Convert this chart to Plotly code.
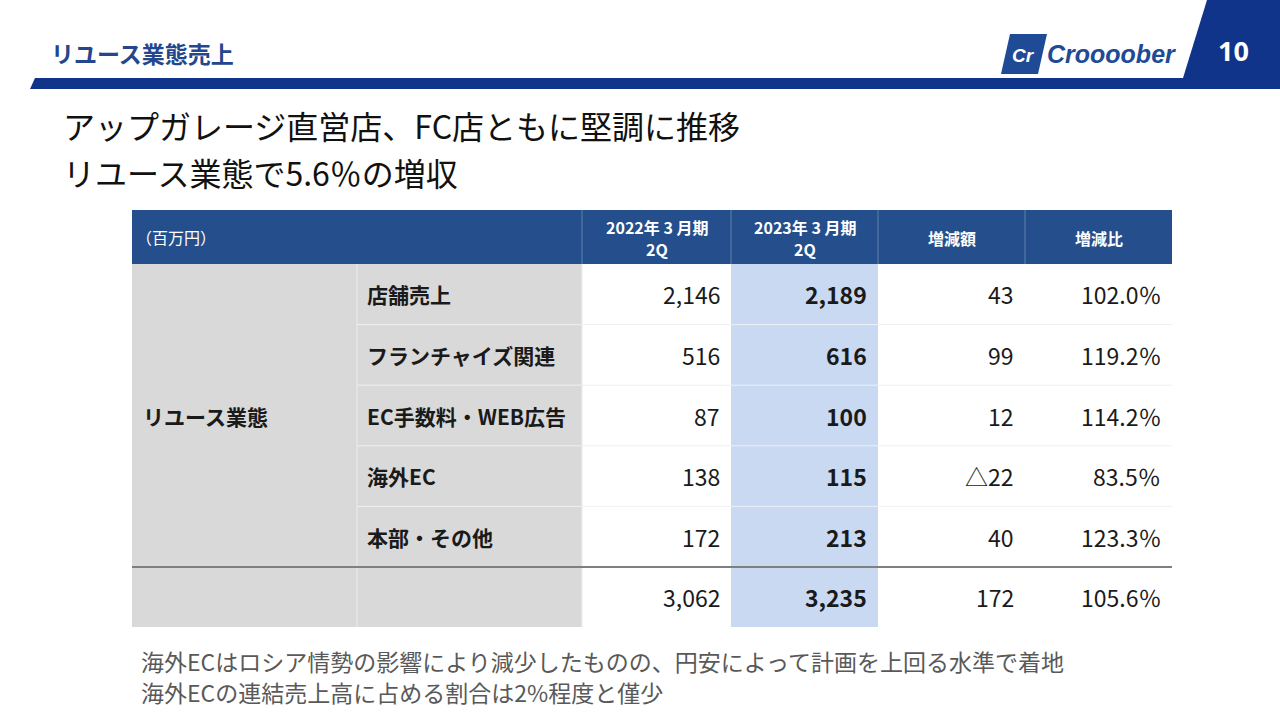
import plotly.graph_objects as go

# ---------------- data ----------------
page_title = "リユース業態売上"
headline = ["アップガレージ直営店、FC店ともに堅調に推移", "リユース業態で5.6％の増収"]
unit_label = "（百万円）"
col_headers = [["2022年 3 月期", "2Q"], ["2023年 3 月期", "2Q"], ["増減額"], ["増減比"]]
segment = "リユース業態"
categories = ["店舗売上", "フランチャイズ関連", "EC手数料・WEB広告", "海外EC", "本部・その他"]
fy2022_2q = [2146, 516, 87, 138, 172]
fy2023_2q = [2189, 616, 100, 115, 213]
change = [43, 99, 12, -22, 40]
change_ratio = [102.0, 119.2, 114.2, 83.5, 123.3]
total_2022 = 3062
total_2023 = 3235
total_change = 172
total_ratio = 105.6
notes = ["海外ECはロシア情勢の影響により減少したものの、円安によって計画を上回る水準で着地",
         "海外ECの連結売上高に占める割合は2%程度と僅少"]
page_no = "10"

# ---------------- style ----------------
JP = "Noto Sans CJK JP"
NAVY = "#0f348a"
HEAD_BLUE = "#244f8c"
GREY = "#d9d9d9"
LBLUE = "#c9d9f1"
TXT = "#1a1a1a"

col_edges = [132, 357, 582, 731, 878, 1025, 1172]
head_top, head_bot = 210, 264
row_h = (567 - 264) / 5
total_top, total_bot = 567, 627

shapes, ann = [], []


def rect(x0, y0, x1, y1, color):
    shapes.append(dict(type="rect", xref="x", yref="y", x0=x0, y0=y0, x1=x1, y1=y1,
                       fillcolor=color, line=dict(width=0), layer="below"))


def line(x0, y0, x1, y1, color, w=1):
    shapes.append(dict(type="line", xref="x", yref="y", x0=x0, y0=y0, x1=x1, y1=y1,
                       line=dict(color=color, width=w), layer="below"))


def path(pts, color):
    d = "M " + " L ".join(f"{x},{y}" for x, y in pts) + " Z"
    shapes.append(dict(type="path", xref="x", yref="y", path=d, fillcolor=color,
                       line=dict(width=0), layer="below"))


def text(x, y, s, size, color=TXT, anchor="left", bold=False, family=JP, italic=False):
    if bold:
        s = f"<b>{s}</b>"
    if italic:
        s = f"<i>{s}</i>"
    ann.append(dict(x=x, y=y, xref="x", yref="y", text=s, showarrow=False,
                    xanchor=anchor, yanchor="middle", borderpad=0,
                    font=dict(family=family, size=size, color=color)))


# ---------------- header band ----------------
path([(35, 78), (1280, 78), (1280, 89), (30, 89)], NAVY)
path([(1207, 0), (1280, 0), (1280, 78), (1183, 78)], NAVY)
text(1233, 50, page_no, 27, "white", "center", bold=True, family="Open Sans")
text(50, 53, page_title, 23, "#24468c", bold=True)

# logo
path([(1010, 34), (1047, 34), (1038, 74), (1001, 74)], "#1f4a96")
text(1023, 55, "Cr", 19, "white", "center", bold=True, italic=True, family="Liberation Sans")
text(1046, 54, "Croooober", 25, "#1f4a96", "left", bold=True, italic=True,
     family="Liberation Sans Narrow, Liberation Sans")

# headline
text(62, 125, headline[0], 32, "#111111")
text(62, 172, headline[1], 32, "#111111")

# ---------------- table ----------------
rect(col_edges[0], head_top, col_edges[-1], head_bot, HEAD_BLUE)
rect(col_edges[0], head_bot, col_edges[2], total_bot, GREY)
rect(col_edges[3], head_bot, col_edges[4], total_bot, LBLUE)

for xe in col_edges[2:-1]:
    line(xe, head_top, xe, head_bot, "rgba(255,255,255,0.28)")
line(col_edges[1], head_bot, col_edges[1], total_bot, "#ececec")
line(col_edges[2], head_bot, col_edges[2], total_bot, "#ececec")
for i in range(1, 5):
    yb = head_bot + i * row_h
    line(col_edges[1], yb, col_edges[-1], yb, "#eef0f5")
line(col_edges[0], total_top, col_edges[-1], total_top, "#7f7f7f", 2)

# header text
hmid = (head_top + head_bot) / 2
text(col_edges[0] + 3, hmid, unit_label, 16, "white")
for j, lines in enumerate(col_headers):
    cx = (col_edges[2 + j] + col_edges[3 + j]) / 2
    n = len(lines)
    for k, ln in enumerate(lines):
        cy = hmid + 1 + (k - (n - 1) / 2) * 22
        text(cx, cy, ln, 16, "white", "center", bold=True)

# body
text(col_edges[0] + 10, head_bot + 2.5 * row_h, segment, 21, TXT, bold=True)


def fmt_int(v):
    return f"△{abs(v):,}" if v < 0 else f"{v:,}"


NUM = 23
pad = 10
rows = list(zip(categories, fy2022_2q, fy2023_2q, change, change_ratio))
for i, (cat, a, b, d, r) in enumerate(rows):
    cy = head_bot + (i + 0.5) * row_h
    text(col_edges[1] + 9, cy, cat, 21, TXT, bold=True)
    text(col_edges[3] - pad, cy, fmt_int(a), NUM, anchor="right")
    text(col_edges[4] - pad, cy, fmt_int(b), NUM, anchor="right", bold=True)
    text(col_edges[5] - pad, cy, fmt_int(d), NUM, anchor="right")
    text(col_edges[6] - pad, cy, f"{r:.1f}％", NUM, anchor="right")

cy = (total_top + total_bot) / 2
text(col_edges[3] - pad, cy, fmt_int(total_2022), NUM, anchor="right")
text(col_edges[4] - pad, cy, fmt_int(total_2023), NUM, anchor="right", bold=True)
text(col_edges[5] - pad, cy, fmt_int(total_change), NUM, anchor="right")
text(col_edges[6] - pad, cy, f"{total_ratio:.1f}％", NUM, anchor="right")

# notes
for k, nt in enumerate(notes):
    text(140, 661 + k * 30.5, nt, 23, "#595959")

fig = go.Figure()
fig.update_layout(
    width=1280, height=720, margin=dict(l=0, r=0, t=0, b=0),
    paper_bgcolor="white", plot_bgcolor="white",
    xaxis=dict(range=[0, 1280], visible=False, fixedrange=True),
    yaxis=dict(range=[720, 0], visible=False, fixedrange=True),
    shapes=shapes, annotations=ann, showlegend=False,
)
fig.write_html("out.html", config={"displayModeBar": False},
               post_script="document.body.style.margin='0';document.body.style.overflow='hidden';")
